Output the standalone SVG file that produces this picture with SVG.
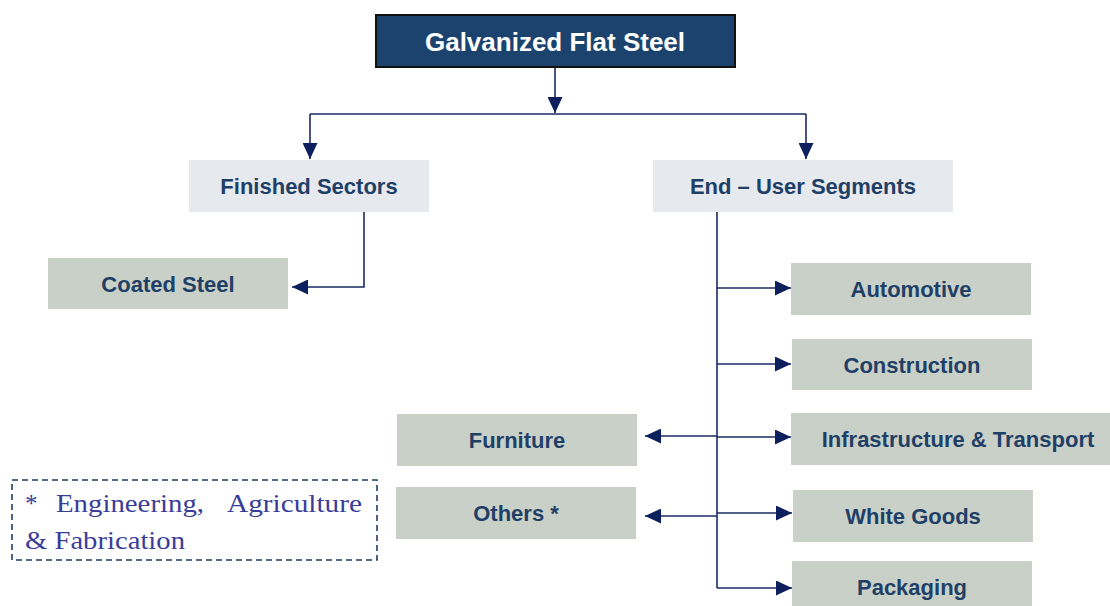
<svg xmlns="http://www.w3.org/2000/svg" width="1110" height="606" viewBox="0 0 1110 606">
<style>
.lbl{font-family:"Liberation Sans",Arial,sans-serif;font-weight:bold;font-size:22px;fill:#1f3f66;text-anchor:middle;dominant-baseline:central}
.grey{fill:#c9d0c8}
.light{fill:#e6e9ee}
.ln{stroke:#1a2b66;stroke-width:1.6;fill:none}
.note{font-family:"Liberation Serif","Times New Roman",serif;font-size:25px;fill:#3a3d98}
</style>
<defs>
<marker id="ah" markerUnits="userSpaceOnUse" markerWidth="16" markerHeight="15" refX="16" refY="7.5" orient="auto">
<path d="M0,0 L16,7.5 L0,15 z" fill="#0d1f5c"/>
</marker>
</defs>
<g id="connectors">
<path class="ln" d="M555,67 V113" marker-end="url(#ah)"/>
<path class="ln" d="M310,114 H806"/>
<path class="ln" d="M310,114 V159" marker-end="url(#ah)"/>
<path class="ln" d="M806,114 V159" marker-end="url(#ah)"/>
<path class="ln" d="M364,212 V287 H292" marker-end="url(#ah)"/>
<path class="ln" d="M717,212 V588"/>
<path class="ln" d="M717,288 H791" marker-end="url(#ah)"/>
<path class="ln" d="M717,364 H791" marker-end="url(#ah)"/>
<path class="ln" d="M717,437 H791" marker-end="url(#ah)"/>
<path class="ln" d="M717,513 H792" marker-end="url(#ah)"/>
<path class="ln" d="M717,588 H792" marker-end="url(#ah)"/>
<path class="ln" d="M717,436 H645" marker-end="url(#ah)"/>
<path class="ln" d="M717,516 H645" marker-end="url(#ah)"/>
</g>
<g id="galvanized">
<rect x="376" y="15" width="359" height="52" fill="#1b436e" stroke="#111" stroke-width="2"/>
<text x="555" y="42" class="lbl" style="fill:#fff;font-size:26px">Galvanized Flat Steel</text>
</g>
<g id="finished">
<rect x="189" y="160" width="240" height="52" class="light"/>
<text x="309" y="186" class="lbl">Finished Sectors</text>
</g>
<g id="enduser">
<rect x="653" y="160" width="300" height="52" class="light"/>
<text x="803" y="186" class="lbl">End – User Segments</text>
</g>
<g id="coated">
<rect x="48" y="258" width="240" height="51" class="grey"/>
<text x="168" y="284" class="lbl">Coated Steel</text>
</g>
<g id="automotive">
<rect x="791" y="263" width="240" height="52" class="grey"/>
<text x="911" y="289" class="lbl">Automotive</text>
</g>
<g id="construction">
<rect x="792" y="339" width="240" height="51" class="grey"/>
<text x="912" y="365" class="lbl">Construction</text>
</g>
<g id="infrastructure">
<rect x="791" y="413" width="319" height="52" class="grey"/>
<text x="958" y="439" class="lbl">Infrastructure &amp; Transport</text>
</g>
<g id="whitegoods">
<rect x="793" y="490" width="240" height="52" class="grey"/>
<text x="913" y="516" class="lbl">White Goods</text>
</g>
<g id="packaging">
<rect x="792" y="561" width="240" height="45" class="grey"/>
<text x="912" y="587" class="lbl">Packaging</text>
</g>
<g id="furniture">
<rect x="397" y="414" width="240" height="52" class="grey"/>
<text x="517" y="440" class="lbl">Furniture</text>
</g>
<g id="others">
<rect x="396" y="487" width="240" height="52" class="grey"/>
<text x="516" y="513" class="lbl">Others *</text>
</g>
<g id="note">
<rect x="12" y="480" width="365" height="80" fill="none" stroke="#1f3d66" stroke-width="1.6" stroke-dasharray="6,4"/>
<text class="note" x="25" y="512">*</text>
<text class="note" x="56" y="512" textLength="148" lengthAdjust="spacingAndGlyphs">Engineering,</text>
<text class="note" x="227" y="512" textLength="135" lengthAdjust="spacingAndGlyphs">Agriculture</text>
<text class="note" x="25" y="549" textLength="160" lengthAdjust="spacingAndGlyphs">&amp; Fabrication</text>
</g>
</svg>
